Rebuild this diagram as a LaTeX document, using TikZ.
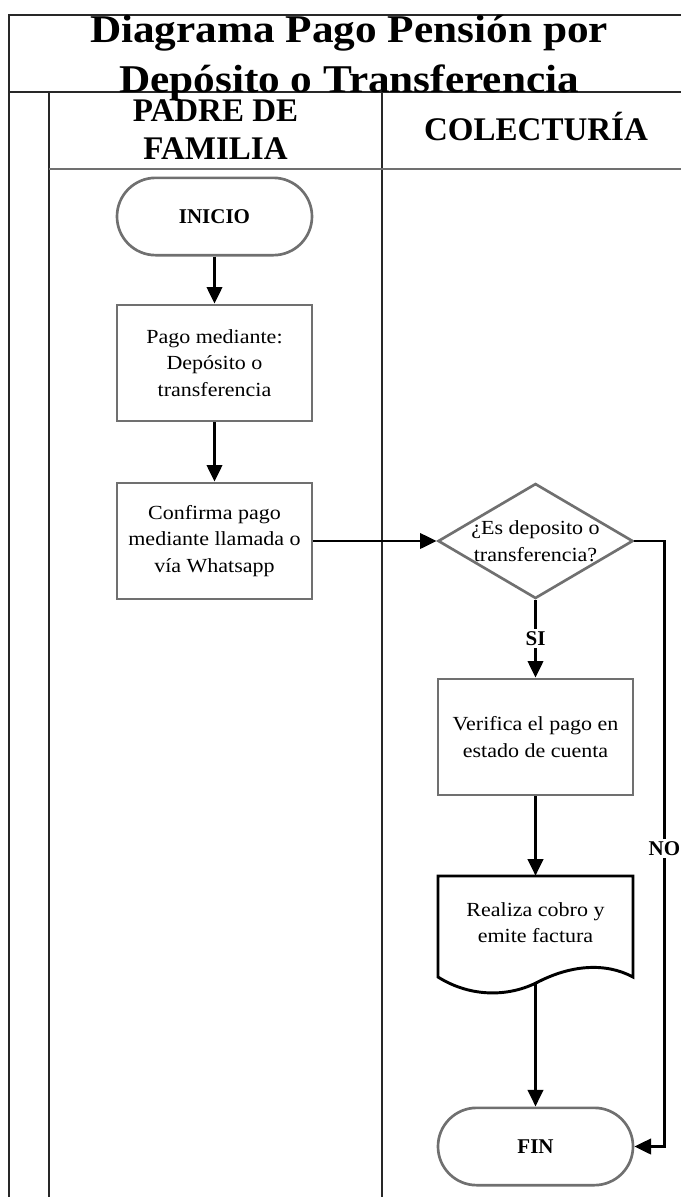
\documentclass[tikz,border=0pt]{standalone}
\usepackage{fontspec}
\setmainfont{Liberation Serif}
\newfontfamily\widefont{Liberation Serif}[FakeStretch=1.1]
\usetikzlibrary{shapes.geometric,arrows.meta}
\definecolor{boxgray}{RGB}{112,112,112}
\definecolor{frameline}{RGB}{40,40,40}
\begin{document}
\begin{tikzpicture}[x=0.75pt,y=-0.75pt,
  frame/.style={draw=frameline,line width=2pt},
  lanerule/.style={draw=boxgray,line width=2pt},
  bodytext/.style={font=\widefont\fontsize{15}{19.9}\selectfont},
  procbox/.style={bodytext,draw=boxgray,line width=2pt,fill=white,
    minimum width=146.25pt,minimum height=87pt,align=center,inner sep=2pt},
  terminal/.style={draw=boxgray,line width=2pt,rounded corners=29pt,
    minimum width=146.25pt,minimum height=58pt,
    font=\bfseries\fontsize{15.75}{19}\selectfont},
  decision/.style={diamond,draw=boxgray,line width=2pt,
    minimum width=146.25pt,minimum height=86.25pt,inner sep=0pt},
  docbox/.style={bodytext,minimum width=146.25pt,minimum height=69.75pt,
    align=center,inner sep=2pt},
  docline/.style={draw=black,line width=2.2pt,line join=miter},
  arr/.style={-{Triangle[length=12.5pt,width=11.5pt]},line width=2.2pt,draw=black},
  flag/.style={font=\bfseries\fontsize{15.75}{19}\selectfont,fill=white,inner sep=2pt},
  titletext/.style={font=\widefont\bfseries\fontsize{29.5}{37.5}\selectfont,align=center},
  lanetext/.style={font=\bfseries\fontsize{24.75}{28.5}\selectfont,align=center}
]
\useasboundingbox (0,0) rectangle (681,1197);

% pool frame and lanes
\draw[frame] (690,15) -- (9,15) -- (9,1205);
\draw[frame] (9,92) -- (690,92);
\draw[frame] (49,92) -- (49,1205);
\draw[frame] (382,92) -- (382,1205);
\draw[lanerule] (49,169) -- (690,169);

% headings
\node[titletext] (title) at (349,58) {Diagrama Pago Pensión por\\Depósito o Transferencia};
\node[lanetext] (lanePF) at (215.5,130) {PADRE DE\\FAMILIA};
\node[lanetext,anchor=base] (laneCO) at (536,140) {COLECTURÍA};

% flow steps
\node[terminal] (ini) at (214.5,216.5) {INICIO};
\node[procbox] (b1) at (214.5,363) {Pago mediante:\\Depósito o\\transferencia};
\node[procbox] (b2) at (214.5,541) {Confirma pago\\mediante llamada o\\vía Whatsapp};
\node[decision,label={[bodytext,align=center]center:¿Es deposito o\\transferencia?}] (dia) at (535.5,541) {};
\node[procbox] (b3) at (535.5,737) {Verifica el pago en\\estado de cuenta};
\node[docbox] (doc) at (535.5,922.5) {Realiza cobro y\\emite factura};
\draw[docline] (438,977) -- (438,876) -- (633,876) -- (633,977)
  .. controls (605,962) and (570,965) .. (536,983)
  .. controls (505,998) and (468,996) .. (438,977) -- cycle;
\coordinate (docb) at (535.5,983);
\node[terminal] (fin) at (535.5,1146.5) {FIN};

% connectors
\draw[arr] (ini) -- (b1);
\draw[arr] (b1) -- (b2);
\draw[arr] (b2.east) -- (dia.west);
\draw[arr] (dia) -- node[flag] {SI} (b3);
\draw[arr] (b3) -- (doc);
\draw[arr] (docb) -- (fin);
\draw[arr] (dia.east) -- ++(30,0) |- node[flag,pos=0.254] {NO} (fin.east);
\end{tikzpicture}
\end{document}
